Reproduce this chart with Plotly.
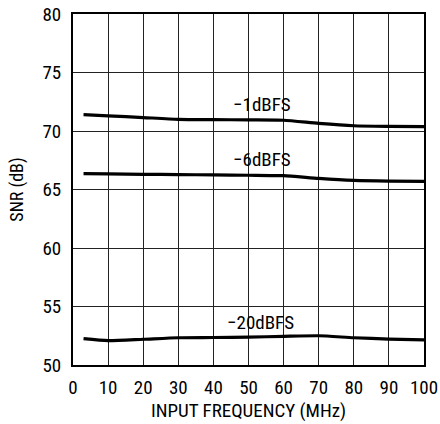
import plotly.graph_objects as go

freq_1 = [3, 10, 20, 30, 40, 50, 60, 70, 80, 90, 100]
snr_1 = [71.4, 71.3, 71.15, 71.0, 70.97, 70.95, 70.92, 70.65, 70.45, 70.4, 70.38]
freq_6 = [3, 10, 20, 30, 40, 50, 60, 70, 80, 90, 100]
snr_6 = [66.35, 66.33, 66.3, 66.27, 66.25, 66.22, 66.18, 65.95, 65.78, 65.72, 65.7]
freq_20 = [3, 10, 20, 30, 40, 50, 60, 70, 80, 90, 100]
snr_20 = [52.25, 52.08, 52.2, 52.33, 52.35, 52.38, 52.45, 52.5, 52.33, 52.22, 52.15]

labels = ["\u22121dBFS", "\u22126dBFS", "\u221220dBFS"]
label_x = [53.8, 53.8, 53.5]
label_y = [72.3, 67.6, 53.6]

FONT = "Liberation Sans Narrow, Roboto Condensed, Arial Narrow, Liberation Sans, Arial, sans-serif"

fig = go.Figure()
for fx, fy in [(freq_1, snr_1), (freq_6, snr_6), (freq_20, snr_20)]:
    fig.add_trace(go.Scatter(x=fx, y=fy, mode="lines", line=dict(color="black", width=3.2, shape="spline", smoothing=0.6),
                             showlegend=False, hoverinfo="skip"))

for t, x, y in zip(labels, label_x, label_y):
    fig.add_annotation(x=x, y=y, text=t, showarrow=False, font=dict(family=FONT, size=19, color="black"),
                       xanchor="center", yanchor="middle")

fig.update_layout(
    width=440, height=424,
    margin=dict(l=73, r=16, t=14, b=59),
    paper_bgcolor="white", plot_bgcolor="white",
    font=dict(family=FONT, size=19, color="black"),
    xaxis=dict(range=[0, 100], tickvals=list(range(0, 101, 10)), showgrid=True, gridcolor="#222", gridwidth=1,
               zeroline=False, showline=True, linecolor="black", linewidth=2, mirror=True, ticks="",
               automargin=False, ticklabelstandoff=4,
               title=dict(text="INPUT FREQUENCY (MHz)", font=dict(size=19), standoff=6),
               tickfont=dict(size=19)),
    yaxis=dict(range=[50, 80], tickvals=list(range(50, 81, 5)), showgrid=True, gridcolor="#222", gridwidth=1,
               zeroline=False, showline=True, linecolor="black", linewidth=2, mirror=True, ticks="",
               automargin=False, ticklabelstandoff=6,
               title=dict(text="SNR (dB)", font=dict(size=18), standoff=14),
               tickfont=dict(size=19)),
)

fig.write_html("out.html", post_script="document.body.style.margin='0';",
               config={"displayModeBar": False})
